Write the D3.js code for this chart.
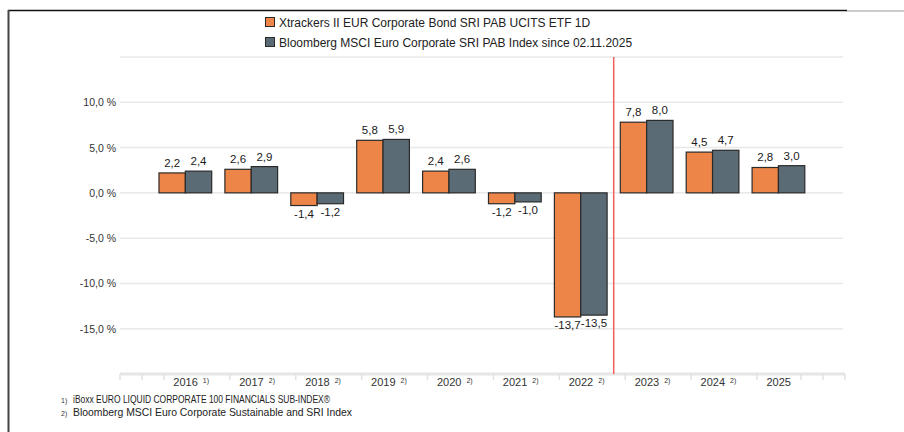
<!DOCTYPE html>
<html>
<head>
<meta charset="utf-8">
<script src="https://cdn.jsdelivr.net/npm/d3@7"></script>
<style>
  body { margin: 0; background: #fff; }
  svg { display: block; font-family: "Liberation Sans", Arial, sans-serif; }
</style>
</head>
<body>
<div id="chart"></div>
<script>
// data
var years = ['2016', '2017', '2018', '2019', '2020', '2021', '2022', '2023', '2024', '2025'];
var notes = ['1)', '2)', '2)', '2)', '2)', '2)', '2)', '2)', '2)', ''];
var fundValues = [2.2, 2.6, -1.4, 5.8, 2.4, -1.2, -13.7, 7.8, 4.5, 2.8];
var indexValues = [2.4, 2.9, -1.2, 5.9, 2.6, -1.0, -13.5, 8.0, 4.7, 3.0];
var seriesNames = ['Xtrackers II EUR Corporate Bond SRI PAB UCITS ETF 1D',
  'Bloomberg MSCI Euro Corporate SRI PAB Index since 02.11.2025'];
var seriesColors = ['#ee8548', '#5b6b75'];
var yTicks = [-15, -10, -5, 0, 5, 10];
var footnotes = [['1)', 'iBoxx EURO LIQUID CORPORATE 100 FINANCIALS SUB-INDEX®'],
  ['2)', 'Bloomberg MSCI Euro Corporate Sustainable and SRI Index']];
var markerAfter = '2022';

var width = 904, height = 432;
var plotLeft = 120, plotRight = 845;
// rendered widths of the footnote lines in the original
var footnoteWidths = [257, 279];

var svg = d3.select('#chart').append('svg')
  .attr('width', width)
  .attr('height', height);

// frame of the screenshot
svg.append('line').attr('x1', 8).attr('x2', 847).attr('y1', 10.5).attr('y2', 10.5)
  .style('stroke', '#111').style('stroke-width', 1.5);
svg.append('line').attr('x1', 847).attr('x2', 904).attr('y1', 11).attr('y2', 11)
  .style('stroke', '#bbb').style('stroke-width', 1.5);
svg.append('line').attr('x1', 8.5).attr('x2', 8.5).attr('y1', 10).attr('y2', height)
  .style('stroke', '#444').style('stroke-width', 2);

var y = d3.scaleLinear().domain([-20, 15]).range([374, 57]);

var x = d3.scaleBand().domain(years)
  .range([152.4, 811.4])
  .paddingInner(0.2)
  .paddingOuter(0.1);

var xSub = d3.scaleBand().domain([0, 1]).range([0, x.bandwidth()]);

var fmt = function(v) { return d3.format('.1f')(v).replace('.', ',').replace('−', '-'); };

// gridlines (incl. top one at 15 %)
svg.selectAll('line.grid')
  .data(yTicks.concat([15]))
  .enter().append('line')
  .attr('class', 'grid')
  .attr('x1', plotLeft).attr('x2', 843)
  .attr('y1', function(d) { return y(d); })
  .attr('y2', function(d) { return y(d); })
  .style('stroke', '#e8e8e8')
  .style('stroke-width', 1.5);

svg.selectAll('text.ylab')
  .data(yTicks)
  .enter().append('text')
  .attr('class', 'ylab')
  .attr('x', 116)
  .attr('y', function(d) { return y(d) + 4; })
  .attr('text-anchor', 'end')
  .style('font-size', '10.5px')
  .style('fill', '#333')
  .text(function(d) { return fmt(d) + ' %'; });

// x axis band
svg.append('line')
  .attr('x1', plotLeft).attr('x2', plotRight)
  .attr('y1', y(-20)).attr('y2', y(-20))
  .style('stroke', '#e6e6e6').style('stroke-width', 3);

// bars
var rows = years.map(function(yr, i) {
  return {year: yr, note: notes[i], values: [fundValues[i], indexValues[i]]};
});

var groups = svg.selectAll('g.year')
  .data(rows)
  .enter().append('g')
  .attr('class', 'year')
  .attr('transform', function(d) { return 'translate(' + x(d.year) + ',0)'; });

groups.selectAll('rect')
  .data(function(d) { return d.values.map(function(v, k) { return {k: k, v: v}; }); })
  .enter().append('rect')
  .attr('x', function(d) { return xSub(d.k); })
  .attr('width', xSub.bandwidth())
  .attr('y', function(d) { return y(Math.max(0, d.v)); })
  .attr('height', function(d) { return Math.abs(y(d.v) - y(0)); })
  .style('fill', function(d) { return seriesColors[d.k]; })
  .style('stroke', '#2a2a2a')
  .style('stroke-width', 1.2);

groups.selectAll('text.val')
  .data(function(d) { return d.values.map(function(v, k) { return {k: k, v: v}; }); })
  .enter().append('text')
  .attr('class', 'val')
  .attr('x', function(d) { return xSub(d.k) + xSub.bandwidth() / 2; })
  .attr('y', function(d) { return d.v >= 0 ? y(d.v) - 6 : y(d.v) + 12; })
  .attr('text-anchor', 'middle')
  .style('font-size', '11.5px')
  .style('fill', '#1a1a1a')
  .text(function(d) { return fmt(d.v); });

// x labels with footnote marks
var xLabels = svg.selectAll('text.xlab')
  .data(rows)
  .enter().append('text')
  .attr('class', 'xlab')
  .attr('x', function(d) { return x(d.year) + x.bandwidth() / 2 - 12; })
  .attr('y', 386)
  .style('font-size', '11px')
  .style('fill', '#333');
xLabels.append('tspan').text(function(d) { return d.year; });
xLabels.append('tspan')
  .attr('dx', 5).attr('dy', -3)
  .style('font-size', '7px')
  .text(function(d) { return d.note; });

// faint minor ticks on the axis, hidden where a label sits
var step = x.step() / 3;
var boxes = [];
xLabels.each(function() { boxes.push(this.getBBox()); });
var tickPos = d3.range(plotLeft, plotRight + 1, step).filter(function(p) {
  return !boxes.some(function(b) { return p > b.x - 4 && p < b.x + b.width + 4; });
});
svg.selectAll('line.tick')
  .data(tickPos)
  .enter().append('line')
  .attr('class', 'tick')
  .attr('x1', function(d) { return d; }).attr('x2', function(d) { return d; })
  .attr('y1', y(-20)).attr('y2', y(-20) + 6)
  .style('stroke', '#e2e2e2').style('stroke-width', 1.5);

// red marker line between 2022 and 2023
var iMark = years.indexOf(markerAfter);
var xMark = (x(years[iMark]) + x.bandwidth() + x(years[iMark + 1])) / 2;
svg.append('line')
  .attr('x1', xMark).attr('x2', xMark)
  .attr('y1', y(15)).attr('y2', y(-20))
  .style('stroke', '#f06060').style('stroke-width', 1.5);

// legend
var legend = svg.selectAll('g.legend')
  .data(seriesNames)
  .enter().append('g')
  .attr('class', 'legend')
  .attr('transform', function(d, i) { return 'translate(265,' + (22 + i * 20) + ')'; });
legend.append('rect')
  .attr('x', 0.5).attr('y', -4.5).attr('width', 9).attr('height', 9)
  .style('fill', function(d, i) { return seriesColors[i]; })
  .style('stroke', '#2a2a2a').style('stroke-width', 1);
legend.append('text')
  .attr('x', 14).attr('y', 4.5)
  .style('font-size', '12px')
  .style('fill', '#222')
  .text(function(d) { return d; });

// footnotes
var fn = svg.selectAll('g.fn')
  .data(footnotes)
  .enter().append('g')
  .attr('class', 'fn')
  .attr('transform', function(d, i) { return 'translate(61,' + (403 + i * 13) + ')'; });
fn.append('text').attr('x', 0).attr('y', 0)
  .style('font-size', '7px').style('fill', '#333')
  .text(function(d) { return d[0]; });
fn.append('text').attr('x', 12).attr('y', 0)
  .attr('textLength', function(d, i) { return footnoteWidths[i]; })
  .attr('lengthAdjust', 'spacingAndGlyphs')
  .style('font-size', '10.2px').style('fill', '#222')
  .text(function(d) { return d[1]; });
</script>
</body>
</html>
